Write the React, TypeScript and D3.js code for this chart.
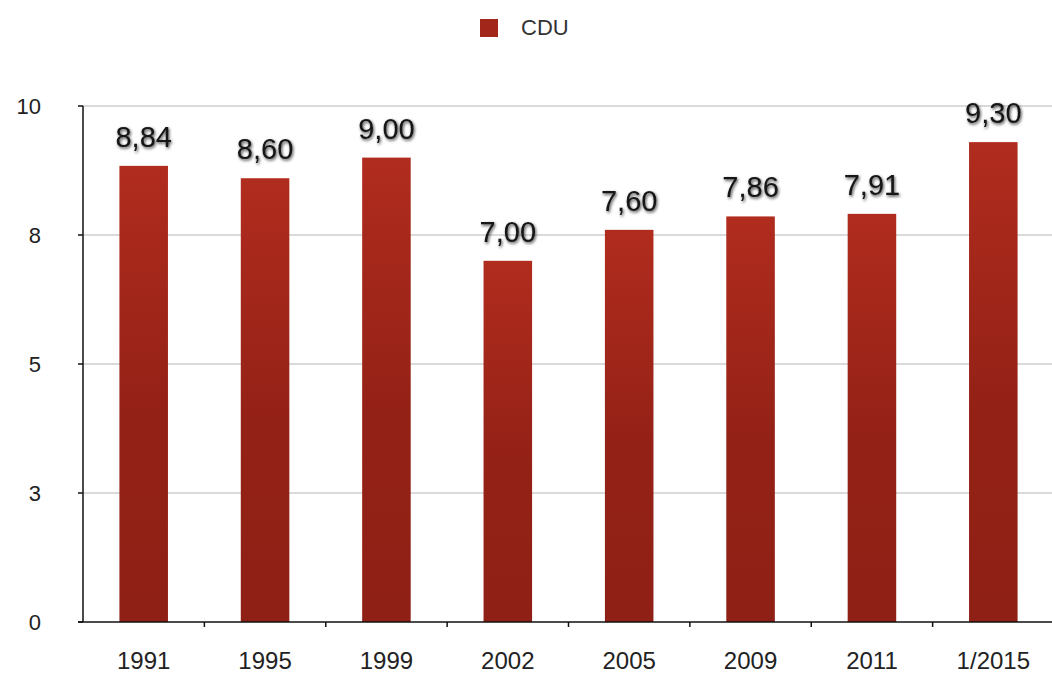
import React, { useEffect, useRef } from "react";
import * as d3 from "d3";

const categories = ["1991", "1995", "1999", "2002", "2005", "2009", "2011", "1/2015"];
const cduValues = [8.84, 8.6, 9.0, 7.0, 7.6, 7.86, 7.91, 9.3];
const valueLabels = ["8,84", "8,60", "9,00", "7,00", "7,60", "7,86", "7,91", "9,30"];
const yTickValues = [0, 2.5, 5, 7.5, 10];
const yTickLabels = ["0", "3", "5", "8", "10"];
const seriesName = "CDU";

const W = 1052;
const H = 675;

export default function App() {
  const ref = useRef<SVGSVGElement | null>(null);

  useEffect(() => {
    const svg = d3.select(ref.current);
    svg.selectAll("*").remove();
    const font = "'Liberation Sans', Arial, Helvetica, sans-serif";

    const left = 83, right = 1054, top = 106, bottom = 622;
    const x = d3.scaleBand<string>().domain(categories).range([left, right]).padding(0);
    const y = d3.scaleLinear().domain([0, 10]).range([bottom, top]);

    const defs = svg.append("defs");
    const grad = defs.append("linearGradient").attr("id", "barGrad")
      .attr("x1", 0).attr("y1", 0).attr("x2", 0).attr("y2", 1);
    grad.append("stop").attr("offset", "0%").attr("stop-color", "#b02c1e");
    grad.append("stop").attr("offset", "55%").attr("stop-color", "#942116");
    grad.append("stop").attr("offset", "100%").attr("stop-color", "#8f2015");

    const filt = defs.append("filter").attr("id", "shadow")
      .attr("x", "-20%").attr("y", "-30%").attr("width", "140%").attr("height", "160%");
    filt.append("feDropShadow").attr("dx", 1).attr("dy", 1.5)
      .attr("stdDeviation", 1.5).attr("flood-color", "#000").attr("flood-opacity", 0.75);

    svg.append("rect").attr("width", W).attr("height", H).attr("fill", "#fff");

    // gridlines
    svg.append("g").selectAll("line").data(yTickValues.filter((v) => v > 0)).join("line")
      .attr("x1", left).attr("x2", W).attr("y1", (d) => y(d)).attr("y2", (d) => y(d))
      .attr("stroke", "#b5b5b5").attr("stroke-width", 1.2);

    // bars
    const bw = x.bandwidth() * 0.4;
    svg.append("g").selectAll("rect").data(cduValues).join("rect")
      .attr("x", (_, i) => (x(categories[i]) as number) + x.bandwidth() / 2 - bw / 2)
      .attr("width", bw)
      .attr("y", (d) => y(d))
      .attr("height", (d) => bottom - y(d))
      .attr("fill", "url(#barGrad)");

    // value labels
    svg.append("g").selectAll("text").data(cduValues).join("text")
      .attr("x", (_, i) => (x(categories[i]) as number) + x.bandwidth() / 2)
      .attr("y", (d) => y(d) - 19)
      .attr("text-anchor", "middle")
      .attr("font-family", font).attr("font-size", 29)
      .attr("fill", "#141414")
      .attr("filter", "url(#shadow)")
      .text((_, i) => valueLabels[i]);

    // y axis
    svg.append("line").attr("x1", left).attr("x2", left).attr("y1", top).attr("y2", bottom)
      .attr("stroke", "#111").attr("stroke-width", 1.5);
    svg.append("g").selectAll("line").data(yTickValues).join("line")
      .attr("x1", left - 5).attr("x2", left).attr("y1", (d) => y(d)).attr("y2", (d) => y(d))
      .attr("stroke", "#111").attr("stroke-width", 1.5);
    svg.append("g").selectAll("text").data(yTickValues).join("text")
      .attr("x", 41).attr("y", (d) => y(d)).attr("dy", "0.36em")
      .attr("text-anchor", "end")
      .attr("font-family", font).attr("font-size", 22).attr("fill", "#222")
      .text((_, i) => yTickLabels[i]);

    // x axis
    svg.append("line").attr("x1", left - 5).attr("x2", W).attr("y1", bottom).attr("y2", bottom)
      .attr("stroke", "#111").attr("stroke-width", 1.5);
    const boundaries = categories.slice(1).map((c) => x(c) as number);
    svg.append("g").selectAll("line").data(boundaries).join("line")
      .attr("x1", (d) => d).attr("x2", (d) => d).attr("y1", bottom).attr("y2", bottom + 5)
      .attr("stroke", "#111").attr("stroke-width", 1.5);
    svg.append("g").selectAll("text").data(categories).join("text")
      .attr("x", (d) => (x(d) as number) + x.bandwidth() / 2)
      .attr("y", 669)
      .attr("text-anchor", "middle")
      .attr("font-family", font).attr("font-size", 24).attr("fill", "#222")
      .text((d) => d);

    // legend
    svg.append("rect").attr("x", 480).attr("y", 19).attr("width", 18).attr("height", 18)
      .attr("fill", "#a3261a");
    svg.append("text").attr("x", 521).attr("y", 35)
      .attr("font-family", font).attr("font-size", 22).attr("fill", "#333")
      .text(seriesName);
  }, []);

  return (
    <svg ref={ref} width={W} height={H}
      style={{ position: "absolute", left: 0, top: 0, display: "block" }} />
  );
}
